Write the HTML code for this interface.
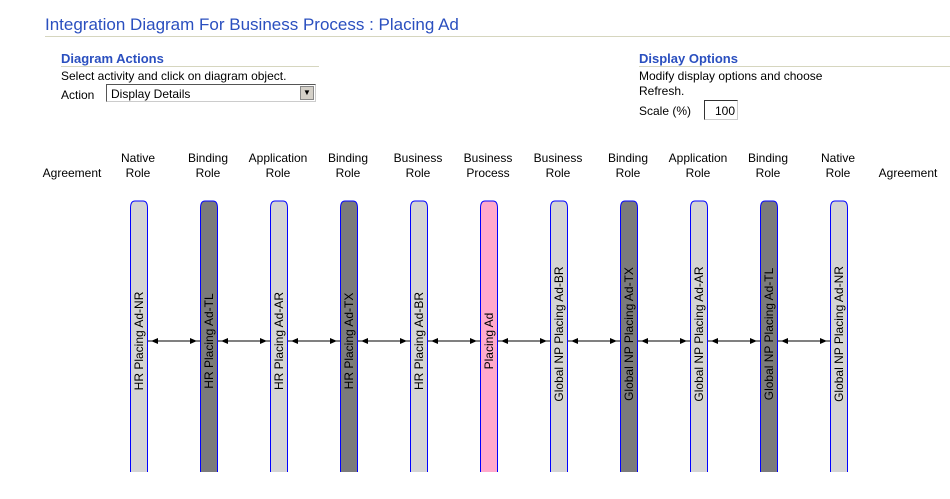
<!DOCTYPE html>
<html><head><meta charset="utf-8"><style>
body{margin:0;width:950px;height:499px;background:#fff;font-family:"Liberation Sans",sans-serif;position:relative;overflow:hidden}
.a{position:absolute}
.t{font-size:12px;color:#000}
.h{color:#2a4fbf;font-weight:bold;font-size:13px}
.hdr{position:absolute;width:80px;text-align:center;font-size:12px;line-height:15px}
</style></head><body>
<div class="a" style="left:45px;top:15px;font-size:17px;color:#2a4fbf">Integration Diagram For Business Process : Placing Ad</div>
<div class="a" style="left:45px;top:36px;width:905px;height:1px;background:#d6d6bf"></div>
<div class="a h" style="left:61px;top:51px">Diagram Actions</div>
<div class="a" style="left:61px;top:66px;width:258px;height:1px;background:#d6d6bf"></div>
<div class="a t" style="left:61px;top:69px">Select activity and click on diagram object.</div>
<div class="a t" style="left:61px;top:88px">Action</div>
<div class="a" style="left:106px;top:84px;width:210px;height:18px;border:1px solid #555;border-right-color:#ccc;border-bottom-color:#ccc;font-size:12px;box-sizing:border-box;padding:2px 4px">Display Details
<div class="a" style="right:1px;top:1px;width:14px;height:14px;background:#d4d0c8;border:1px solid #888;box-sizing:border-box;font-size:8px;text-align:center;line-height:12px">▼</div></div>
<div class="a h" style="left:639px;top:51px">Display Options</div>
<div class="a" style="left:639px;top:66px;width:311px;height:1px;background:#d6d6bf"></div>
<div class="a t" style="left:639px;top:69px;width:200px;line-height:15px">Modify display options and choose Refresh.</div>
<div class="a t" style="left:639px;top:104px">Scale (%)</div>
<div class="a" style="left:704px;top:100px;width:34px;height:20px;border:1px solid #333;border-right-color:#ccc;border-bottom-color:#ccc;box-sizing:border-box;font-size:12px;text-align:right;padding:3px 2px">100</div>
<div class="hdr" style="left:32px;top:166px">Agreement</div>
<div class="hdr" style="left:868px;top:166px">Agreement</div>
<svg id="d" class="a" style="left:0;top:0" width="950" height="499"></svg>
<script>
const headers1=["Native","Binding","Application","Binding","Business","Business","Business","Binding","Application","Binding","Native"];
const headers2=["Role","Role","Role","Role","Role","Process","Role","Role","Role","Role","Role"];
const labels=["HR Placing Ad-NR","HR Placing Ad-TL","HR Placing Ad-AR","HR Placing Ad-TX","HR Placing Ad-BR","Placing Ad","Global NP Placing Ad-BR","Global NP Placing Ad-TX","Global NP Placing Ad-AR","Global NP Placing Ad-TL","Global NP Placing Ad-NR"];
const kinds=["light","dark","light","dark","light","pink","light","dark","light","dark","light"];
const fills={light:"#d4d4d4",dark:"#7b7b7b",pink:"#ffaacc"};
const NS="http://www.w3.org/2000/svg";
const svg=document.getElementById('d');
const cx=i=>139+i*70;
labels.forEach((lab,i)=>{
 const x=cx(i);
 const h=document.createElement('div');
 h.className='hdr';
 h.style.left=(x-41)+'px';h.style.top='151px';
 h.innerHTML=headers1[i]+'<br>'+headers2[i];
 
 
 document.body.appendChild(h);
 const p=document.createElementNS(NS,'path');
 p.setAttribute('d',`M${x-8.5},472 V208 Q${x-8.5},201 ${x-4},201 H${x+4} Q${x+8.5},201 ${x+8.5},208 V472`);
 p.setAttribute('fill',fills[kinds[i]]);p.setAttribute('stroke','#0000ff');
 
 
 svg.appendChild(p);
 const t=document.createElementNS(NS,'text');
 t.setAttribute('transform',`translate(${x+4},${lab.startsWith('Global')?334:341}) rotate(-90)`);
 t.setAttribute('text-anchor','middle');t.setAttribute('font-size','12');
 t.setAttribute('font-family','Liberation Sans, sans-serif');
 t.textContent=lab;
 
 
 svg.appendChild(t);
 if(i<labels.length-1){
  const x1=x+9,x2=cx(i+1)-9;
  const g=document.createElementNS(NS,'g');
  
  
  g.innerHTML=`<line x1="${x1}" y1="341" x2="${x2}" y2="341" stroke="#000"/><path d="M${x1+3},341 l7,-3 v6z" fill="#000"/><path d="M${x2-3},341 l-7,-3 v6z" fill="#000"/>`;
  svg.appendChild(g);
 }
});
</script>
</body></html>
